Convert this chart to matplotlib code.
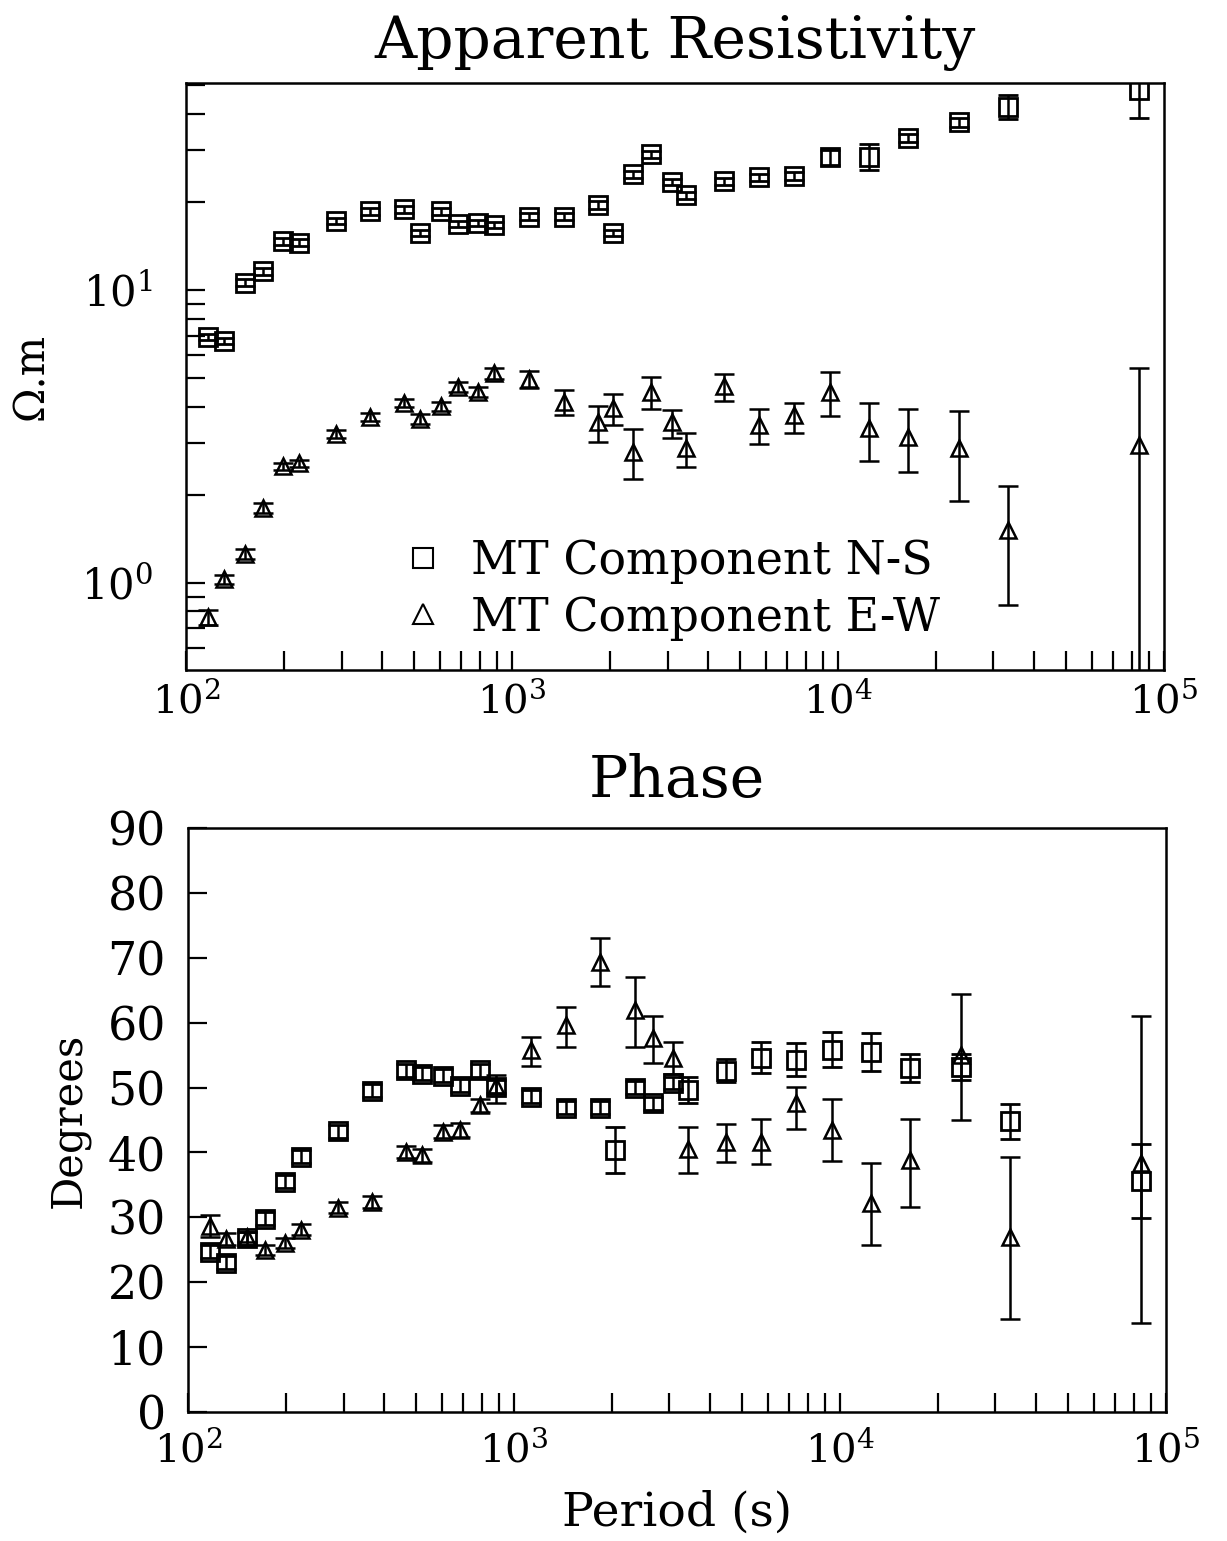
import numpy as np
import matplotlib
matplotlib.use("Agg")
import matplotlib.pyplot as plt
from matplotlib.lines import Line2D
from matplotlib.ticker import LogLocator, LogFormatterMathtext, NullFormatter, MultipleLocator

plt.rcParams['font.family'] = ['DejaVu Serif']
plt.rcParams['mathtext.fontset'] = 'dejavuserif'

# periods (s), shared by both components and both panels
period = [117, 131, 152, 172, 198, 222, 288, 368, 467, 521, 605, 683, 786, 878,
          1128, 1447, 1840, 2048, 2356, 2670, 3086, 3430, 4470, 5710, 7350, 9480,
          12490, 16350, 23480, 33200, 83700]

# apparent resistivity, N-S (ohm.m) with lower / upper bounds
ns_rho = [6.92, 6.70, 10.6, 11.6, 14.7, 14.5, 17.2, 18.6, 18.9, 15.7, 18.6, 16.8, 16.9, 16.7,
          17.8, 17.8, 19.5, 15.7, 24.9, 29.1, 23.4, 21.1, 23.5, 24.3, 24.5, 28.4,
          28.4, 33.0, 37.4, 42.2, 48.2]
ns_rho_lo = [6.75, 6.55, 10.3, 11.3, 14.3, 14.1, 16.8, 18.1, 18.4, 15.3, 18.1, 16.4, 16.5, 16.3,
             17.3, 17.3, 18.9, 15.3, 24.2, 28.3, 22.8, 20.5, 22.8, 23.6, 23.7, 26.8,
             25.7, 32.0, 36.0, 38.4, 38.6]
ns_rho_hi = [7.10, 6.85, 10.9, 11.9, 15.1, 14.9, 17.6, 19.1, 19.4, 16.1, 19.1, 17.2, 17.3, 17.1,
             18.3, 18.3, 20.1, 16.1, 25.6, 29.9, 24.0, 21.7, 24.2, 25.0, 25.3, 30.0,
             31.5, 34.0, 38.8, 46.3, 60.0]

# apparent resistivity, E-W
ew_rho = [0.766, 1.03, 1.26, 1.80, 2.51, 2.57, 3.23, 3.69, 4.11, 3.63, 4.02, 4.67, 4.49, 5.21,
          4.97, 4.15, 3.54, 3.96, 2.80, 4.49, 3.54, 2.89, 4.70, 3.46, 3.74, 4.49,
          3.38, 3.15, 2.89, 1.52, 2.96]
ew_rho_lo = [0.72, 0.99, 1.21, 1.73, 2.44, 2.50, 3.12, 3.57, 3.98, 3.48, 3.88, 4.48, 4.32, 4.98,
             4.64, 3.74, 3.03, 3.46, 2.26, 3.93, 3.13, 2.49, 4.18, 2.98, 3.25, 3.71,
             2.61, 2.39, 1.91, 0.84, 0.30]
ew_rho_hi = [0.81, 1.07, 1.31, 1.87, 2.58, 2.64, 3.34, 3.81, 4.24, 3.78, 4.16, 4.86, 4.66, 5.44,
             5.30, 4.56, 4.02, 4.41, 3.36, 5.05, 3.89, 3.25, 5.16, 3.93, 4.11, 5.25,
             4.11, 3.93, 3.86, 2.14, 5.42]

# phase (degrees), N-S
ns_ph = [24.7, 23.0, 26.8, 29.8, 35.5, 39.3, 43.3, 49.5, 52.7, 52.1, 51.8, 50.3, 52.7, 50.1,
         48.6, 46.9, 46.9, 40.4, 50.0, 47.6, 50.7, 49.6, 52.6, 54.6, 54.3, 55.8,
         55.5, 53.0, 53.2, 44.8, 35.6]
ns_ph_err = [1.0, 1.0, 1.0, 1.0, 1.0, 1.0, 1.0, 1.0, 1.0, 1.0, 1.0, 1.0, 1.0, 1.0,
             1.0, 1.0, 1.0, 3.5, 1.0, 1.0, 1.0, 2.0, 1.8, 2.4, 2.5, 2.7,
             2.9, 2.1, 2.0, 2.7, 5.7]

# phase, E-W
ew_ph = [28.7, 26.7, 27.0, 25.0, 26.0, 28.1, 31.5, 32.4, 40.1, 39.6, 43.2, 43.5, 47.3, 50.3,
         55.8, 59.7, 69.4, np.nan, 62.0, 57.7, 54.6, 40.5, 41.6, 41.6, 47.6, 43.5,
         32.2, 38.9, 55.0, 27.0, 38.4]
ew_ph_lo = [27.0, 25.8, 26.2, 24.2, 25.2, 27.3, 30.7, 31.5, 39.2, 38.6, 42.2, 42.4, 46.3, 47.6,
            53.3, 56.3, 65.7, np.nan, 56.3, 53.8, 52.1, 36.8, 38.5, 38.2, 43.6, 38.7,
            25.7, 31.6, 45.0, 14.3, 13.7]
ew_ph_hi = [30.4, 27.6, 27.8, 25.8, 26.8, 28.9, 32.3, 33.3, 41.0, 40.5, 44.2, 44.6, 48.3, 52.0,
            57.8, 62.4, 73.1, np.nan, 67.1, 61.1, 57.0, 43.9, 44.4, 45.2, 50.1, 48.3,
            38.4, 45.2, 64.4, 39.3, 61.1]

legend_labels = ['MT Component N-S', 'MT Component E-W']


def bounds(v, lo, hi):
    v, lo, hi = np.array(v), np.array(lo), np.array(hi)
    return [v - lo, hi - v]


sq_style = dict(fmt='s', ms=13.5, mfc='none', mec='k', mew=2.0, ecolor='k',
                elinewidth=1.8, capsize=7, capthick=1.8)
tr_style = dict(fmt='^', ms=11.5, mfc='none', mec='k', mew=1.8, ecolor='k',
                elinewidth=1.8, capsize=7, capthick=1.8)

fig = plt.figure(figsize=(12.27, 15.41), dpi=100)
ax1 = fig.add_axes([0.1516, 0.5652, 0.797, 0.381])
ax2 = fig.add_axes([0.1532, 0.0837, 0.797, 0.379])

# --- apparent resistivity
ax1.errorbar(period, ns_rho, yerr=bounds(ns_rho, ns_rho_lo, ns_rho_hi), **sq_style)
ax1.errorbar(period, ew_rho, yerr=bounds(ew_rho, ew_rho_lo, ew_rho_hi), **tr_style)
ax1.set_xscale('log')
ax1.set_yscale('log')
ax1.set_xlim(100, 1e5)
ax1.set_ylim(0.505, 51)
ax1.set_title('Apparent Resistivity', fontsize=42, pad=18)
ax1.set_ylabel('Ω.m', fontsize=30)
ax1.yaxis.set_label_coords(-0.137, 0.5)

handles = [Line2D([], [], ls='none', marker='s', ms=14, mfc='none', mec='k', mew=1.5),
           Line2D([], [], ls='none', marker='^', ms=14, mfc='none', mec='k', mew=1.5)]
ax1.legend(handles, legend_labels, loc='lower left', bbox_to_anchor=(0.177, -0.02),
           frameon=False, fontsize=33, handlelength=1.0, handletextpad=0.55,
           labelspacing=0.25)

# --- phase
ax2.errorbar(period, ns_ph, yerr=ns_ph_err, **sq_style)
ax2.errorbar(period, ew_ph, yerr=bounds(ew_ph, ew_ph_lo, ew_ph_hi), **tr_style)
ax2.set_xscale('log')
ax2.set_xlim(100, 1e5)
ax2.set_ylim(0, 90)
ax2.yaxis.set_major_locator(MultipleLocator(10))
ax2.set_title('Phase', fontsize=42, pad=22)
ax2.set_ylabel('Degrees', fontsize=30)
ax2.yaxis.set_label_coords(-0.100, 0.5)
ax2.set_xlabel('Period (s)', fontsize=34, labelpad=15)

for ax in (ax1, ax2):
    for s in ax.spines.values():
        s.set_linewidth(1.8)
    ax.xaxis.set_major_locator(LogLocator(base=10))
    ax.xaxis.set_major_formatter(LogFormatterMathtext())
    ax.xaxis.set_minor_locator(LogLocator(base=10, subs=np.arange(2, 10)))
    ax.xaxis.set_minor_formatter(NullFormatter())
    ax.tick_params(axis='both', which='both', direction='in', length=14, width=1.6,
                   top=False, right=False)
    ax.tick_params(axis='x', which='major', labelsize=29, pad=8)

ax2.tick_params(axis='x', which='major', pad=13)

ax1.yaxis.set_major_formatter(LogFormatterMathtext())
ax1.yaxis.set_minor_locator(LogLocator(base=10, subs=np.arange(2, 10)))
ax1.yaxis.set_minor_formatter(NullFormatter())
ax1.tick_params(axis='y', which='major', labelsize=30, pad=24)
ax2.tick_params(axis='y', which='major', labelsize=33, pad=16)

fig.savefig('out.png', dpi=100, facecolor='white')
